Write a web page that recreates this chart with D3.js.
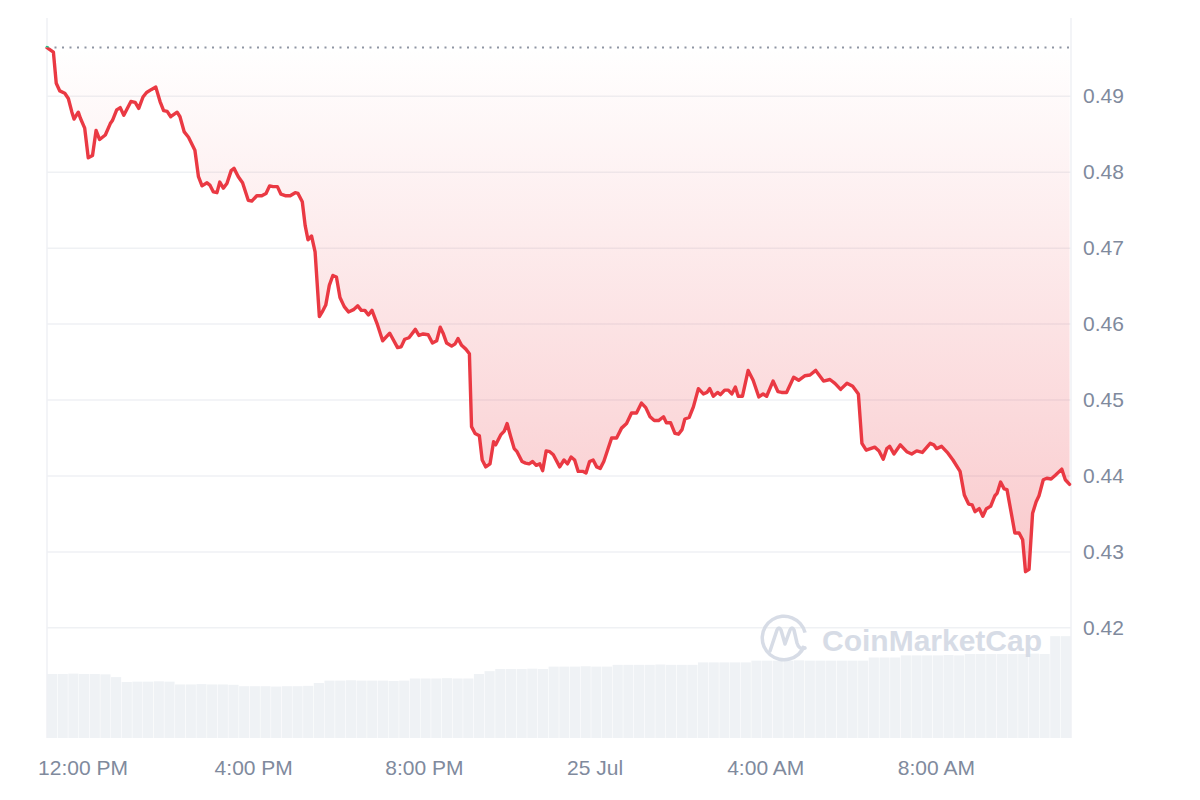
<!DOCTYPE html>
<html>
<head>
<meta charset="utf-8">
<script src="https://cdn.jsdelivr.net/npm/d3@7"></script>
<style>
  body { margin: 0; background: #fff; }
  text { font-family: "Liberation Sans", Arial, sans-serif; }
</style>
</head>
<body>
<div id="chart"></div>
<script>
// 24h window, times are minutes after the start
var startTime = Date.UTC(2024, 6, 24, 11, 10);
var spanMinutes = 1440;

var minutes = [0, 9, 13, 18, 25, 30, 35, 38, 44, 47, 53, 58, 64, 69, 74, 82, 89, 92, 98, 103,
  108, 118, 124, 129, 135, 140, 147, 153, 159, 164, 169, 174, 183, 187, 193, 199, 208, 213, 218, 225,
  229, 234, 239, 243, 248, 253, 259, 263, 269, 275, 283, 288, 295, 302, 308, 313, 318, 324, 329, 335,
  342, 349, 353, 359, 363, 367, 372, 377, 383, 387, 392, 397, 402, 407, 412, 418, 424, 431, 437, 442,
  447, 452, 457, 464, 472, 482, 493, 498, 503, 509, 518, 523, 529, 536, 542, 548, 553, 557, 562, 569,
  574, 578, 583, 589, 594, 597, 602, 608, 612, 617, 623, 628, 631, 638, 643, 647, 652, 657, 661, 668,
  673, 678, 683, 688, 693, 697, 702, 707, 712, 721, 727, 732, 737, 742, 747, 754, 758, 763, 768, 773,
  778, 783, 794, 801, 808, 815, 822, 829, 836, 842, 848, 854, 860, 867, 871, 877, 883, 888, 893, 897,
  903, 909, 916, 923, 928, 932, 937, 943, 947, 953, 958, 963, 968, 972, 978, 986, 993, 1001, 1007, 1012,
  1021, 1028, 1033, 1040, 1050, 1057, 1066, 1073, 1081, 1092, 1101, 1108, 1116, 1125, 1133, 1141, 1146, 1152, 1164, 1170,
  1176, 1181, 1185, 1191, 1200, 1209, 1216, 1223, 1231, 1242, 1247, 1251, 1258, 1267, 1274, 1284, 1290, 1296, 1301, 1305,
  1311, 1316, 1321, 1327, 1333, 1336, 1341, 1346, 1350, 1357, 1361, 1367, 1372, 1376, 1381, 1386, 1391, 1395, 1401, 1406,
  1412, 1418, 1427, 1432, 1438];

var prices = [0.4964, 0.4958, 0.4917, 0.4907, 0.4904, 0.4897, 0.4879, 0.4870, 0.4879, 0.4871,
  0.4858, 0.4819, 0.4822, 0.4855, 0.4843, 0.4849, 0.4864, 0.4868, 0.4882, 0.4885,
  0.4875, 0.4893, 0.4892, 0.4884, 0.4899, 0.4905, 0.4909, 0.4912, 0.4893, 0.4881,
  0.4880, 0.4873, 0.4879, 0.4873, 0.4853, 0.4846, 0.4829, 0.4794, 0.4782, 0.4786,
  0.4783, 0.4774, 0.4773, 0.4787, 0.4779, 0.4785, 0.4802, 0.4805, 0.4794, 0.4786,
  0.4763, 0.4762, 0.4769, 0.4769, 0.4772, 0.4782, 0.4781, 0.4781, 0.4771, 0.4769,
  0.4769, 0.4773, 0.4772, 0.4761, 0.4730, 0.4711, 0.4716, 0.4695, 0.4610, 0.4616,
  0.4625, 0.4651, 0.4664, 0.4662, 0.4635, 0.4623, 0.4616, 0.4619, 0.4624, 0.4618,
  0.4618, 0.4612, 0.4618, 0.4601, 0.4578, 0.4588, 0.4569, 0.4570, 0.4580, 0.4582,
  0.4593, 0.4585, 0.4587, 0.4586, 0.4575, 0.4578, 0.4596, 0.4588, 0.4575, 0.4571,
  0.4574, 0.4581, 0.4572, 0.4567, 0.4561, 0.4465, 0.4456, 0.4453, 0.4421, 0.4412,
  0.4416, 0.4445, 0.4441, 0.4454, 0.4459, 0.4469, 0.4452, 0.4436, 0.4432, 0.4419,
  0.4417, 0.4416, 0.4419, 0.4414, 0.4416, 0.4407, 0.4433, 0.4432, 0.4428, 0.4412,
  0.4421, 0.4416, 0.4425, 0.4421, 0.4406, 0.4406, 0.4404, 0.4419, 0.4421, 0.4412,
  0.4410, 0.4419, 0.4450, 0.4450, 0.4463, 0.4469, 0.4483, 0.4483, 0.4496, 0.4490,
  0.4478, 0.4473, 0.4473, 0.4478, 0.4470, 0.4470, 0.4456, 0.4455, 0.4461, 0.4475,
  0.4477, 0.4491, 0.4515, 0.4508, 0.4510, 0.4515, 0.4505, 0.4510, 0.4507, 0.4513,
  0.4513, 0.4508, 0.4517, 0.4505, 0.4505, 0.4539, 0.4526, 0.4504, 0.4508, 0.4505,
  0.4525, 0.4511, 0.4510, 0.4510, 0.4530, 0.4526, 0.4532, 0.4533, 0.4539, 0.4525,
  0.4527, 0.4522, 0.4514, 0.4522, 0.4518, 0.4508, 0.4443, 0.4434, 0.4438, 0.4433,
  0.4422, 0.4436, 0.4439, 0.4429, 0.4441, 0.4432, 0.4429, 0.4433, 0.4431, 0.4443,
  0.4441, 0.4436, 0.4439, 0.4430, 0.4421, 0.4406, 0.4375, 0.4363, 0.4362, 0.4353,
  0.4357, 0.4347, 0.4357, 0.4360, 0.4374, 0.4377, 0.4392, 0.4383, 0.4382, 0.4346,
  0.4325, 0.4325, 0.4316, 0.4274, 0.4277, 0.4351, 0.4366, 0.4374, 0.4395, 0.4397,
  0.4396, 0.4401, 0.4409, 0.4395, 0.4389];

// 24h volume, one bar per 15 minutes (millions)
var volumes = [183, 183, 184, 183, 183, 182, 174, 160, 161, 161, 162, 161,
  153, 153, 154, 153, 153, 152, 148, 148, 148, 147, 148, 148,
  149, 157, 164, 164, 165, 164, 164, 164, 163, 164, 170, 170,
  170, 171, 170, 170, 183, 191, 197, 197, 197, 198, 197, 204,
  204, 204, 205, 204, 204, 209, 209, 209, 209, 210, 209, 209,
  209, 216, 216, 216, 216, 216, 221, 221, 221, 221, 222, 221,
  221, 221, 221, 221, 221, 230, 230, 230, 236, 236, 236, 236,
  237, 236, 240, 240, 240, 240, 240, 240, 241, 240, 291, 291];

var priceTicks = [0.42, 0.43, 0.44, 0.45, 0.46, 0.47, 0.48, 0.49];

var width = 1200, height = 800;
var plotLeft = 47, plotRight = 1071, plotTop = 18, plotBottom = 738;

var svg = d3.select("#chart")
  .append("svg")
  .attr("width", width)
  .attr("height", height)
  .style("background", "#fff");

var data = minutes.map(function (m, i) {
  return { date: new Date(startTime + m * 60000), price: prices[i] };
});
var openPrice = prices[0];

var x = d3.scaleUtc()
  .domain([new Date(startTime), new Date(startTime + spanMinutes * 60000)])
  .range([plotLeft, plotRight]);

var y = d3.scaleLinear()
  .domain([0.4055, 0.5003])
  .range([plotBottom, plotTop]);

var xVol = d3.scaleBand()
  .domain(d3.range(volumes.length))
  .range([plotLeft, plotRight])
  .paddingInner(0.05);

var yVol = d3.scaleLinear()
  .domain([0, 400])
  .range([plotBottom, plotBottom - 140]);

var defs = svg.append("defs");
var grad = defs.append("linearGradient")
  .attr("id", "redFade")
  .attr("gradientUnits", "userSpaceOnUse")
  .attr("x1", 0).attr("x2", 0)
  .attr("y1", y(openPrice))
  .attr("y2", y(d3.min(prices)));
grad.append("stop").attr("offset", 0).attr("stop-color", "#ea3943").attr("stop-opacity", 0.0);
grad.append("stop").attr("offset", 1).attr("stop-color", "#ea3943").attr("stop-opacity", 0.27);

defs.append("clipPath").attr("id", "below")
  .append("rect")
  .attr("x", 0).attr("width", width)
  .attr("y", y(openPrice)).attr("height", height);
defs.append("clipPath").attr("id", "above")
  .append("rect")
  .attr("x", 0).attr("width", width)
  .attr("y", 0).attr("height", y(openPrice));

// volume bars
svg.append("g")
  .selectAll("rect")
  .data(volumes)
  .enter()
  .append("rect")
  .attr("x", function (d, i) { return xVol(i); })
  .attr("width", xVol.bandwidth())
  .attr("y", function (d) { return yVol(d); })
  .attr("height", function (d) { return plotBottom - yVol(d); })
  .attr("fill", "#eff2f5");

// grid
svg.append("g")
  .selectAll("line")
  .data(priceTicks)
  .enter()
  .append("line")
  .attr("x1", plotLeft).attr("x2", plotRight)
  .attr("y1", function (d) { return y(d); })
  .attr("y2", function (d) { return y(d); })
  .attr("stroke", "#eff1f4")
  .attr("stroke-width", 1.5);

svg.selectAll(".border")
  .data([plotLeft, plotRight])
  .enter()
  .append("line")
  .attr("class", "border")
  .attr("x1", function (d) { return d; })
  .attr("x2", function (d) { return d; })
  .attr("y1", plotTop)
  .attr("y2", plotBottom)
  .attr("stroke", "#eff1f4")
  .attr("stroke-width", 1.5);

// area between line and opening price
svg.append("path")
  .datum(data)
  .attr("clip-path", "url(#below)")
  .attr("fill", "url(#redFade)")
  .attr("d", d3.area()
    .x(function (d) { return x(d.date); })
    .y0(y(openPrice))
    .y1(function (d) { return y(d.price); }));

// opening price dotted line
svg.append("line")
  .attr("x1", plotLeft).attr("x2", plotRight)
  .attr("y1", y(openPrice)).attr("y2", y(openPrice))
  .attr("stroke", "#8f96a3")
  .attr("stroke-width", 2)
  .attr("stroke-dasharray", "2,5.5");

var line = d3.line()
  .x(function (d) { return x(d.date); })
  .y(function (d) { return y(d.price); });

svg.append("path")
  .datum(data)
  .attr("clip-path", "url(#above)")
  .attr("fill", "none")
  .attr("stroke", "#16c784")
  .attr("stroke-width", 3.4)
  .attr("stroke-linejoin", "round")
  .attr("stroke-linecap", "round")
  .attr("d", line);

svg.append("path")
  .datum(data)
  .attr("clip-path", "url(#below)")
  .attr("fill", "none")
  .attr("stroke", "#ea3943")
  .attr("stroke-width", 3.4)
  .attr("stroke-linejoin", "round")
  .attr("stroke-linecap", "round")
  .attr("d", line);

// axes
var fmtTime = d3.utcFormat("%-I:%M %p");
var fmtDay = d3.utcFormat("%-d %b");
var xAxis = svg.append("g")
  .attr("transform", "translate(0," + (plotBottom + 19) + ")")
  .call(d3.axisBottom(x)
    .ticks(d3.utcHour.every(4))
    .tickSize(0)
    .tickFormat(function (d) { return d.getUTCHours() === 0 ? fmtDay(d) : fmtTime(d); }));
xAxis.select(".domain").remove();
xAxis.selectAll("text")
  .attr("fill", "#808a9d")
  .style("font-size", "21px");

var yAxis = svg.append("g")
  .attr("transform", "translate(" + (plotRight + 12) + ",0)")
  .call(d3.axisRight(y)
    .tickValues(priceTicks)
    .tickSize(0)
    .tickFormat(d3.format(".2f")));
yAxis.select(".domain").remove();
yAxis.selectAll("text")
  .attr("fill", "#808a9d")
  .attr("x", 0)
  .style("font-size", "21px");

// watermark
var mark = svg.append("g").attr("opacity", 0.9);
mark.append("path")
  .attr("d", d3.arc()
    .innerRadius(20)
    .outerRadius(23.5)
    .startAngle(Math.PI * 0.62)
    .endAngle(Math.PI * 2.42)())
  .attr("transform", "translate(784,638)")
  .attr("fill", "#d3d9e4");
mark.append("path")
  .attr("d", "M770,651 L777,630 Q779,626 781,630 L785,644 L790,630 Q792,626 794,630 L797,643 Q799,650 805,648")
  .attr("fill", "none")
  .attr("stroke", "#d3d9e4")
  .attr("stroke-width", 3.5)
  .attr("stroke-linejoin", "round")
  .attr("stroke-linecap", "round");
mark.append("text")
  .attr("x", 822)
  .attr("y", 651)
  .attr("fill", "#d3d9e4")
  .style("font-size", "30px")
  .style("font-weight", "bold")
  .text("CoinMarketCap");
</script>
</body>
</html>
